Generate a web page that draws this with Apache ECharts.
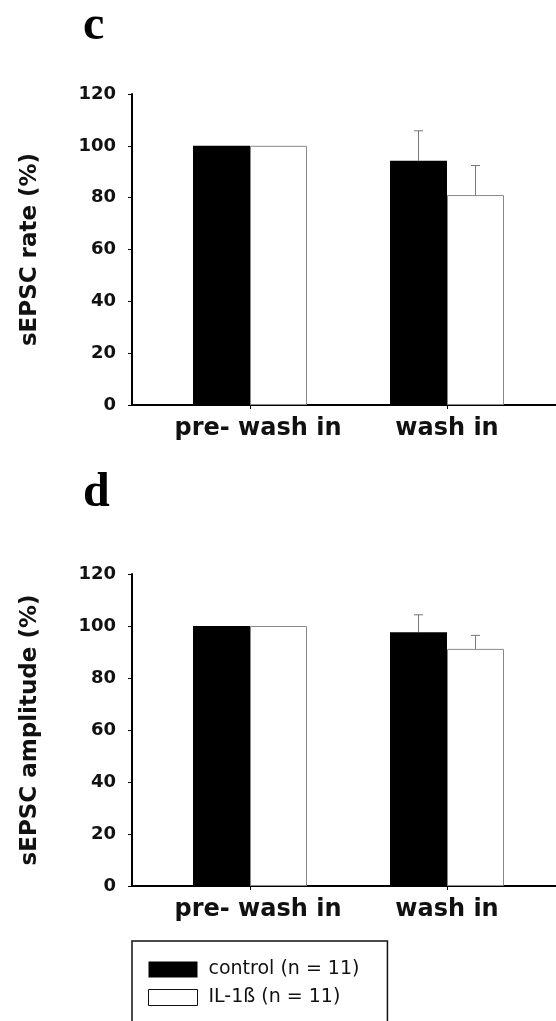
<!DOCTYPE html>
<html>
<head>
<meta charset="utf-8">
<script src="https://cdn.jsdelivr.net/npm/echarts@6/dist/echarts.min.js"></script>
<style>
html,body{margin:0;padding:0;background:#fff;}
#chart{width:556px;height:1021px;}
</style>
</head>
<body>
<div id="chart"></div>
<script>
// ---- data ----
var categories = ['pre- wash in', 'wash in'];
var seriesNames = ['control (n = 11)', 'IL-1ß (n = 11)'];
var yTicks = [0, 20, 40, 60, 80, 100, 120];

// panel c: sEPSC rate (%)
var rateControl = [100, 94.2];
var rateIL1b = [100, 81.0];
var rateControlErr = [0, 11.6];
var rateIL1bErr = [0, 11.4];

// panel d: sEPSC amplitude (%)
var ampControl = [100, 97.6];
var ampIL1b = [100, 91.2];
var ampControlErr = [0, 6.7];
var ampIL1bErr = [0, 5.2];

// ---- chart ----
var chart = echarts.init(document.getElementById('chart'), null, {renderer: 'canvas'});
var BAR_W = 57;
var SANS = 'DejaVu Sans';

function frameAxes(gi, name) {
  return {
    x: {
      type: 'value', gridIndex: gi, min: 0, max: 1,
      axisLine: {show: true, onZero: false, lineStyle: {color: '#000', width: 2}},
      axisTick: {show: false}, axisLabel: {show: false}, splitLine: {show: false}
    },
    y: {
      type: 'value', gridIndex: gi, min: yTicks[0], max: yTicks[yTicks.length - 1],
      interval: yTicks[1] - yTicks[0],
      axisLine: {show: true, lineStyle: {color: '#000', width: 2}},
      axisTick: {show: true, length: 4, lineStyle: {color: '#000', width: 1}},
      axisLabel: {color: '#111', fontFamily: SANS, fontWeight: 'bold', fontSize: 18, margin: 16},
      splitLine: {show: false},
      name: name, nameLocation: 'middle', nameRotate: 90, nameGap: 90,
      nameTextStyle: {color: '#111', fontFamily: SANS, fontWeight: 'bold', fontSize: 23}
    }
  };
}
function barAxes(gi) {
  return {
    x: {
      type: 'category', gridIndex: gi, data: categories,
      axisLine: {show: false},
      axisTick: {show: true, alignWithLabel: true, length: 4, lineStyle: {color: '#000', width: 1}},
      axisLabel: {
        interval: 0, color: '#111', fontFamily: SANS, fontWeight: 'bold', fontSize: 24, margin: 12,
        formatter: function (v, i) { return i === 0 ? '{a|' + v + '}' : '{b|' + v + '}'; },
        rich: {
          a: {color: '#111', fontFamily: SANS, fontWeight: 'bold', fontSize: 24, padding: [0, 0, 0, 16]},
          b: {color: '#111', fontFamily: SANS, fontWeight: 'bold', fontSize: 24}
        }
      }
    },
    y: {
      type: 'value', gridIndex: gi, min: yTicks[0], max: yTicks[yTicks.length - 1],
      show: false, splitLine: {show: false}
    }
  };
}

var f0 = frameAxes(0, 'sEPSC rate (%)');
var b1 = barAxes(1);
var f2 = frameAxes(2, 'sEPSC amplitude (%)');
var b3 = barAxes(3);

function errSeries(xi, ctrlVals, ctrlErr, ilVals, ilErr) {
  var data = [];
  for (var i = 0; i < categories.length; i++) {
    data.push([i, ctrlVals[i], ctrlErr[i], -1]);
    data.push([i, ilVals[i], ilErr[i], 1]);
  }
  return {
    type: 'custom', xAxisIndex: xi, yAxisIndex: xi, silent: true, z: 5,
    data: data,
    renderItem: function (params, api) {
      var err = api.value(2);
      if (!err) return null;
      var side = api.value(3);
      var base = api.coord([api.value(0), api.value(1)]);
      var top = api.coord([api.value(0), api.value(1) + err]);
      var x = base[0] + side * BAR_W / 2;
      var cap = 4.5;
      var st = {stroke: '#777', lineWidth: 1, fill: null};
      return {
        type: 'group',
        children: [
          {type: 'line', shape: {x1: x, y1: base[1], x2: x, y2: top[1]}, style: st},
          {type: 'line', shape: {x1: x - cap, y1: top[1], x2: x + cap, y2: top[1]}, style: st}
        ]
      };
    }
  };
}

function bars(xi, ctrl, il) {
  return [
    {
      name: seriesNames[0], type: 'bar', xAxisIndex: xi, yAxisIndex: xi,
      data: ctrl, barWidth: BAR_W, barGap: '0%',
      itemStyle: {color: '#000'}
    },
    {
      name: seriesNames[1], type: 'bar', xAxisIndex: xi, yAxisIndex: xi,
      data: il, barWidth: BAR_W, barGap: '0%',
      itemStyle: {color: '#fff', borderColor: '#888', borderWidth: 1}
    }
  ];
}

var option = {
  backgroundColor: '#fff',
  animation: false,
  title: [
    {text: 'c', left: 78, top: -2, textStyle: {fontFamily: 'Liberation Serif', fontWeight: 'bold', fontSize: 48, color: '#000'}},
    {text: 'd', left: 78, top: 465, textStyle: {fontFamily: 'Liberation Serif', fontWeight: 'bold', fontSize: 48, color: '#000'}}
  ],
  grid: [
    {left: 132, right: 0, top: 94, height: 311},
    {left: 151.5, width: 394, top: 94, height: 311},
    {left: 132, right: 0, top: 574, height: 312},
    {left: 151.5, width: 394, top: 574, height: 312}
  ],
  xAxis: [f0.x, b1.x, f2.x, b3.x],
  yAxis: [f0.y, b1.y, f2.y, b3.y],
  legend: {
    orient: 'vertical', left: 132, top: 941, height: 150,
    borderColor: '#111', borderWidth: 1.5, borderRadius: 0,
    padding: [19, 28, 30, 16],
    itemWidth: 49, itemHeight: 16, itemGap: 9,
    icon: 'rect', selectedMode: false,
    textStyle: {fontFamily: SANS, fontSize: 19, color: '#111', lineHeight: 16, padding: [0, 0, 0, 6]},
    data: [
      {name: seriesNames[0], itemStyle: {color: '#000'}},
      {name: seriesNames[1], itemStyle: {color: '#fff', borderColor: '#111', borderWidth: 1}}
    ]
  },
  series: [].concat(
    bars(1, rateControl, rateIL1b),
    [errSeries(1, rateControl, rateControlErr, rateIL1b, rateIL1bErr)],
    bars(3, ampControl, ampIL1b),
    [errSeries(3, ampControl, ampControlErr, ampIL1b, ampIL1bErr)]
  )
};
chart.setOption(option);
</script>
</body>
</html>
